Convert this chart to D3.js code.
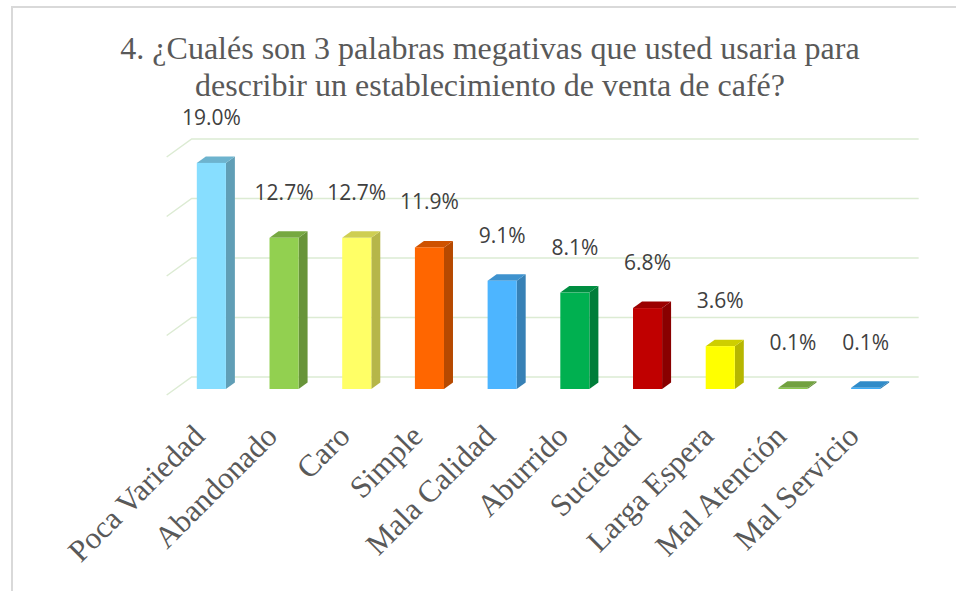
<!DOCTYPE html>
<html>
<head>
<meta charset="utf-8">
<script src="https://cdn.jsdelivr.net/npm/d3@7"></script>
<style>
  body { margin: 0; background: #fff; }
  svg { display: block; }
</style>
</head>
<body>
<div id="chart"></div>
<script>
// Chart data
const categories = ['Poca Variedad', 'Abandonado', 'Caro', 'Simple', 'Mala Calidad',
  'Aburrido', 'Suciedad', 'Larga Espera', 'Mal Atención', 'Mal Servicio'];
const values = [0.190, 0.127, 0.127, 0.119, 0.091, 0.081, 0.068, 0.036, 0.001, 0.001];
const barColors = ['#87DEFF', '#92D050', '#FFFF66', '#FF6600', '#4DB5FF',
  '#00B050', '#C00000', '#FFFF00', '#8CC84E', '#3BACF8'];
const titleLines = ['4. ¿Cualés son 3 palabras megativas que usted usaria para',
  'describir un establecimiento de venta de café?'];
const yTicks = [0, 0.05, 0.10, 0.15, 0.20];

const width = 956;
const height = 591;
const serif = '"Liberation Serif", "Times New Roman", Times, serif';

const svg = d3.select('#chart')
  .append('svg')
  .attr('width', width)
  .attr('height', height);

// frame (only top and left edges are visible in the picture)
svg.append('line')
  .attr('x1', 11).attr('y1', 7).attr('x2', width).attr('y2', 7)
  .attr('stroke', '#d9d9d9').attr('stroke-width', 2);
svg.append('line')
  .attr('x1', 12).attr('y1', 7).attr('x2', 12).attr('y2', height)
  .attr('stroke', '#d9d9d9').attr('stroke-width', 2);

// title
svg.append('g')
  .selectAll('text')
  .data(titleLines)
  .join('text')
  .attr('x', 490)
  .attr('y', (d, i) => 59 + i * 37)
  .attr('text-anchor', 'middle')
  .style('font-family', serif)
  .attr('font-size', 32)
  .attr('fill', '#595959')
  .text(d => d);

// scales, in the plane of the bar fronts
const x = d3.scaleBand()
  .domain(categories)
  .range([175, 902])
  .paddingInner(0.6)
  .paddingOuter(0.3);

const y = d3.scaleLinear()
  .domain([0, 0.2])
  .range([389, 151]);

// 3D offsets: whole depth of the floor, bar sits 1/3 in, bar depth
const depth = { dx: 25, dy: -18 };
const barPlane = 1 / 3;
const barDepth = { dx: 9, dy: -6.5 };

const xLeft = x.range()[0];
const xRight = x.range()[1];
const backDx = depth.dx * (1 - barPlane);
const backDy = depth.dy * (1 - barPlane);
const frontDx = -depth.dx * barPlane;
const frontDy = -depth.dy * barPlane;

// gridlines: back wall + slanted side wall
const grid = svg.append('g')
  .attr('stroke', '#dcebd3')
  .attr('stroke-width', 1.5)
  .attr('fill', 'none');

grid.selectAll('path')
  .data(yTicks)
  .join('path')
  .attr('d', t => {
    const yb = y(t);
    return `M${xLeft + frontDx},${yb + frontDy}` +
      `L${xLeft + backDx},${yb + backDy}` +
      `L${xRight + backDx},${yb + backDy}`;
  });

// bars
const bars = svg.append('g')
  .selectAll('g')
  .data(categories)
  .join('g');

bars.each(function (cat, i) {
  const g = d3.select(this);
  const x0 = x(cat);
  const x1 = x0 + x.bandwidth();
  const y0 = y(0);
  const y1 = y(values[i]);
  const c = d3.color(barColors[i]);
  const side = c.darker(0.95).toString();
  const top = c.darker(0.6).toString();
  const { dx, dy } = barDepth;

  // side face
  g.append('path')
    .attr('d', `M${x1},${y0}L${x1 + dx},${y0 + dy}L${x1 + dx},${y1 + dy}L${x1},${y1}Z`)
    .attr('fill', side);
  // top face
  g.append('path')
    .attr('d', `M${x0},${y1}L${x0 + dx},${y1 + dy}L${x1 + dx},${y1 + dy}L${x1},${y1}Z`)
    .attr('fill', top);
  // front face
  g.append('rect')
    .attr('x', x0)
    .attr('y', y1)
    .attr('width', x.bandwidth())
    .attr('height', y0 - y1)
    .attr('fill', barColors[i]);
});

// value labels
const fmt = d3.format('.1%');
svg.append('g')
  .selectAll('text')
  .data(categories)
  .join('text')
  .attr('x', d => x(d) + x.bandwidth() / 2)
  .attr('y', (d, i) => y(values[i]) - 38)
  .attr('text-anchor', 'middle')
  .style('font-family', '"Open Sans", sans-serif')
  .attr('font-size', 21)
  .attr('fill', '#404040')
  .text((d, i) => fmt(values[i]));

// category labels, rotated
svg.append('g')
  .selectAll('text')
  .data(categories)
  .join('text')
  .attr('transform', d => `translate(${x(d) + x.bandwidth() / 2 - 5},${438}) rotate(-45)`)
  .attr('text-anchor', 'end')
  .style('font-family', serif)
  .attr('font-size', 31)
  .attr('fill', '#595959')
  .text(d => d);
</script>
</body>
</html>
